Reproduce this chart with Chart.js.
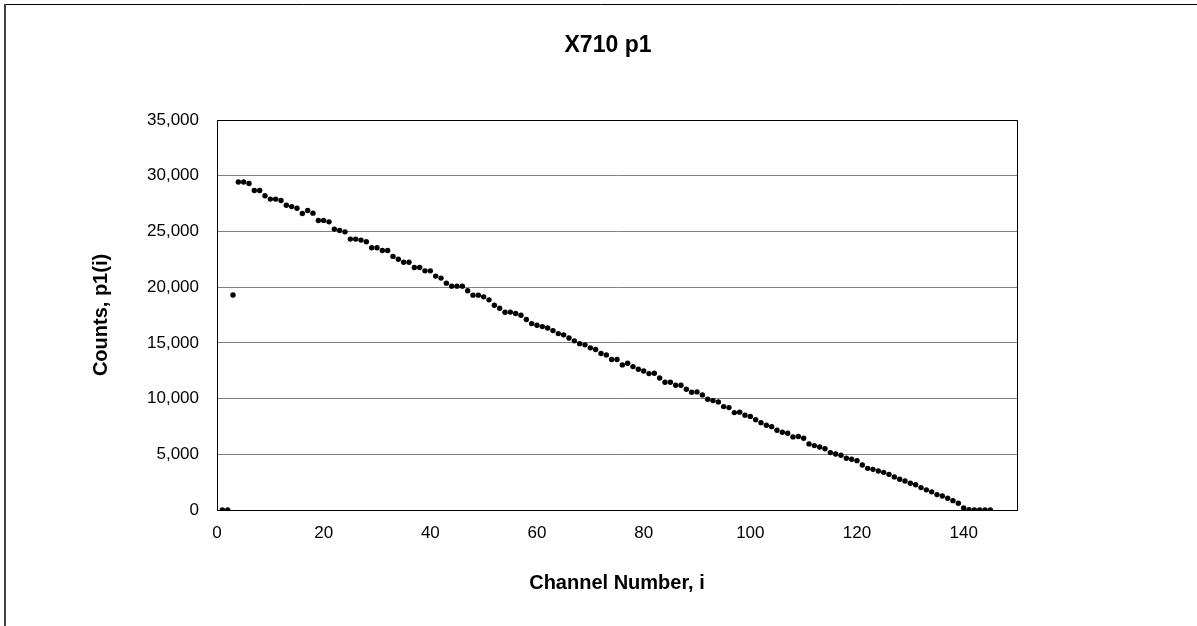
<!DOCTYPE html>
<html lang="en">
<head>
    <meta charset="UTF-8">
    <title>X710 p1</title>
    <style>
        html, body { margin: 0; padding: 0; background: #fff; }
        canvas { display: block; }
    </style>
</head>
<body>
    <canvas id="p1Chart" width="1197" height="626"></canvas>

    <script src="https://cdn.jsdelivr.net/npm/chart.js"></script>
    <script>
        const chartTitle = 'X710 p1';
        const xAxisTitle = 'Channel Number, i';
        const yAxisTitle = 'Counts, p1(i)';

        // channel numbers, i
        const channels = [
            1, 2, 3, 4, 5, 6, 7, 8, 9, 10, 11, 12, 13, 14, 15, 16, 17, 18, 19, 20,
            21, 22, 23, 24, 25, 26, 27, 28, 29, 30, 31, 32, 33, 34, 35, 36, 37, 38, 39, 40,
            41, 42, 43, 44, 45, 46, 47, 48, 49, 50, 51, 52, 53, 54, 55, 56, 57, 58, 59, 60,
            61, 62, 63, 64, 65, 66, 67, 68, 69, 70, 71, 72, 73, 74, 75, 76, 77, 78, 79, 80,
            81, 82, 83, 84, 85, 86, 87, 88, 89, 90, 91, 92, 93, 94, 95, 96, 97, 98, 99, 100,
            101, 102, 103, 104, 105, 106, 107, 108, 109, 110, 111, 112, 113, 114, 115, 116, 117, 118, 119, 120,
            121, 122, 123, 124, 125, 126, 127, 128, 129, 130, 131, 132, 133, 134, 135, 136, 137, 138, 139, 140,
            141, 142, 143, 144, 145
        ];

        // counts p1(i)
        const counts = [
            0, 0, 19300, 29430, 29430, 29300, 28670, 28670, 28200, 27900,
            27900, 27780, 27350, 27230, 27080, 26610, 26880, 26640, 25980, 25990,
            25860, 25210, 25080, 24960, 24310, 24310, 24220, 24070, 23530, 23530,
            23290, 23290, 22760, 22500, 22240, 22240, 21760, 21760, 21460, 21460,
            20990, 20810, 20360, 20090, 20090, 20090, 19670, 19280, 19280, 19130,
            18860, 18380, 18110, 17750, 17760, 17630, 17480, 17090, 16730, 16580,
            16460, 16340, 16100, 15830, 15720, 15440, 15180, 14930, 14820, 14550,
            14400, 14040, 13920, 13500, 13500, 13020, 13170, 12870, 12630, 12480,
            12240, 12270, 11850, 11460, 11460, 11200, 11200, 10840, 10570, 10600,
            10330, 9940, 9820, 9700, 9280, 9190, 8740, 8780, 8510, 8400,
            8110, 7840, 7600, 7480, 7160, 6980, 6890, 6560, 6590, 6440,
            5930, 5780, 5660, 5500, 5150, 5030, 4910, 4640, 4550, 4430,
            4040, 3740, 3650, 3500, 3380, 3200, 2970, 2760, 2600, 2400,
            2260, 2010, 1810, 1630, 1380, 1260, 1050, 840, 600, 180,
            30, 0, 0, 0, 0
        ];

        const xTicks = [0, 20, 40, 60, 80, 100, 120, 140];

        const fontFamily = '"Liberation Sans", Arial, sans-serif';

        // outer frame, plot box and title
        const framePlugin = {
            id: 'frame',
            beforeDatasetsDraw(chart) {
                const { ctx, chartArea: a } = chart;
                ctx.save();
                ctx.strokeStyle = '#000';
                ctx.lineWidth = 1;
                ctx.strokeRect(a.left + 0.5, a.top + 0.5, a.right - a.left, a.bottom - a.top);
                ctx.restore();
            },
            afterDraw(chart) {
                const { ctx } = chart;
                ctx.save();
                ctx.strokeStyle = '#000';
                ctx.lineWidth = 1;
                ctx.beginPath();
                ctx.moveTo(4, 4.5);
                ctx.lineTo(chart.width, 4.5);
                ctx.stroke();
                ctx.strokeStyle = '#404040';
                ctx.lineWidth = 2;
                ctx.beginPath();
                ctx.moveTo(5, 4);
                ctx.lineTo(5, chart.height);
                ctx.stroke();

                ctx.fillStyle = '#000';
                ctx.font = 'bold 23px ' + fontFamily;
                ctx.textAlign = 'center';
                ctx.textBaseline = 'middle';
                ctx.fillText(chartTitle, 608, 46);
                ctx.restore();
            }
        };

        const ctx = document.getElementById('p1Chart').getContext('2d');
        const p1Chart = new Chart(ctx, {
            type: 'scatter',
            data: {
                datasets: [{
                    label: 'p1',
                    data: channels.map((c, k) => ({ x: c, y: counts[k] })),
                    pointRadius: 2.7,
                    pointHoverRadius: 2.7,
                    pointBackgroundColor: '#000',
                    pointBorderColor: '#000',
                    pointBorderWidth: 0,
                    showLine: false,
                }],
            },
            options: {
                responsive: false,
                devicePixelRatio: 1,
                animation: false,
                layout: {
                    padding: { top: 120, right: 180, bottom: 0, left: 0 },
                },
                plugins: {
                    legend: { display: false },
                    tooltip: { enabled: false },
                    title: { display: false },
                },
                scales: {
                    x: {
                        type: 'linear',
                        min: 0,
                        max: 150,
                        afterBuildTicks: (scale) => {
                            scale.ticks = xTicks.map(v => ({ value: v }));
                        },
                        afterFit: (scale) => { scale.height = 116; },
                        grid: { display: false, drawTicks: false },
                        border: { display: true, color: '#000', width: 1 },
                        ticks: {
                            color: '#000',
                            padding: 13,
                            maxRotation: 0,
                            font: { family: fontFamily, size: 17 },
                        },
                        title: {
                            display: true,
                            text: xAxisTitle,
                            color: '#000',
                            font: { family: fontFamily, size: 20, weight: 'bold' },
                            padding: { top: 4, bottom: 31 },
                        },
                    },
                    y: {
                        type: 'linear',
                        min: 0,
                        max: 35000,
                        afterFit: (scale) => { scale.width = 217; },
                        grid: { color: '#808080', lineWidth: 1, drawTicks: false },
                        border: { display: true, color: '#000', width: 1 },
                        ticks: {
                            stepSize: 5000,
                            color: '#000',
                            padding: 18,
                            font: { family: fontFamily, size: 17 },
                            callback: (v) => v.toLocaleString('en-US'),
                        },
                        title: {
                            display: true,
                            text: yAxisTitle,
                            color: '#000',
                            font: { family: fontFamily, size: 20, weight: 'bold' },
                            padding: { top: 89, bottom: 4 },
                        },
                    },
                },
            },
            plugins: [framePlugin],
        });
    </script>
</body>
</html>
